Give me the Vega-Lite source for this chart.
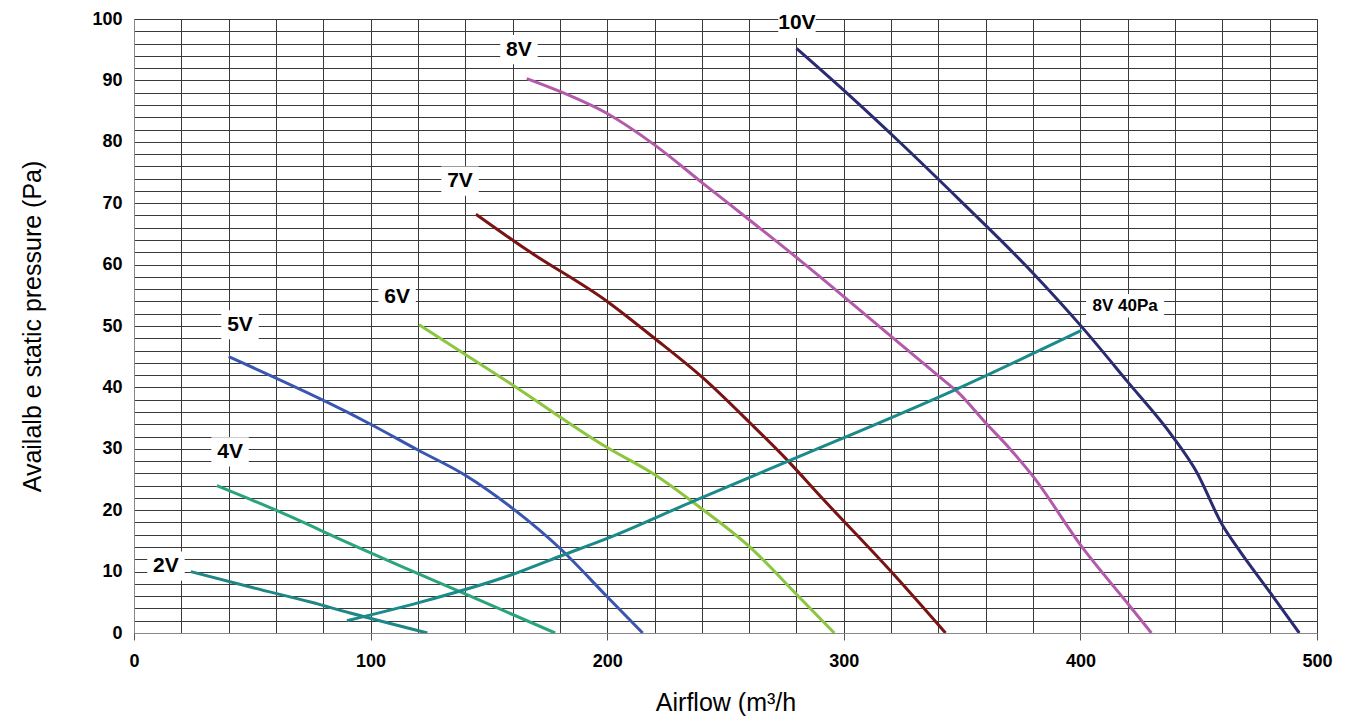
{
  "$schema": "https://vega.github.io/schema/vega-lite/v6.json",
  "width": 1183,
  "height": 614,
  "autosize": {"type": "none"},
  "padding": {"left": 134, "top": 19, "right": 31, "bottom": 92},
  "background": "white",
  "config": {"view": {"stroke": "#cccccc"}, "font": "Liberation Sans"},
  "datasets": {
    "curves": [
      {"series": "2V", "airflow": 24, "pressure": 10},
      {"series": "2V", "airflow": 50, "pressure": 7.4},
      {"series": "2V", "airflow": 75, "pressure": 5},
      {"series": "2V", "airflow": 91, "pressure": 3.3},
      {"series": "2V", "airflow": 124, "pressure": 0},
      {"series": "4V", "airflow": 35, "pressure": 24},
      {"series": "4V", "airflow": 60, "pressure": 20},
      {"series": "4V", "airflow": 91, "pressure": 14.6},
      {"series": "4V", "airflow": 112, "pressure": 11},
      {"series": "4V", "airflow": 138, "pressure": 6.7},
      {"series": "4V", "airflow": 178, "pressure": 0},
      {"series": "5V", "airflow": 40, "pressure": 45},
      {"series": "5V", "airflow": 91, "pressure": 35.8},
      {"series": "5V", "airflow": 100, "pressure": 34},
      {"series": "5V", "airflow": 120, "pressure": 29.8},
      {"series": "5V", "airflow": 140, "pressure": 25.7},
      {"series": "5V", "airflow": 160, "pressure": 20.3},
      {"series": "5V", "airflow": 180, "pressure": 13.8},
      {"series": "5V", "airflow": 200, "pressure": 5.9},
      {"series": "5V", "airflow": 215, "pressure": 0},
      {"series": "6V", "airflow": 120.5, "pressure": 50.2},
      {"series": "6V", "airflow": 160, "pressure": 40.4},
      {"series": "6V", "airflow": 200, "pressure": 30.2},
      {"series": "6V", "airflow": 220, "pressure": 25.8},
      {"series": "6V", "airflow": 238, "pressure": 20.8},
      {"series": "6V", "airflow": 260, "pressure": 14.1},
      {"series": "6V", "airflow": 281, "pressure": 5.9},
      {"series": "6V", "airflow": 296, "pressure": 0},
      {"series": "7V", "airflow": 144.5, "pressure": 68.2},
      {"series": "7V", "airflow": 166, "pressure": 62.4},
      {"series": "7V", "airflow": 200, "pressure": 54},
      {"series": "7V", "airflow": 220, "pressure": 48},
      {"series": "7V", "airflow": 240.6, "pressure": 41.5},
      {"series": "7V", "airflow": 260.4, "pressure": 34.2},
      {"series": "7V", "airflow": 276, "pressure": 28.2},
      {"series": "7V", "airflow": 291, "pressure": 21.9},
      {"series": "7V", "airflow": 320, "pressure": 10},
      {"series": "7V", "airflow": 343, "pressure": 0},
      {"series": "8V", "airflow": 166, "pressure": 90.3},
      {"series": "8V", "airflow": 180, "pressure": 88.2},
      {"series": "8V", "airflow": 200, "pressure": 84.6},
      {"series": "8V", "airflow": 220, "pressure": 79.5},
      {"series": "8V", "airflow": 240.6, "pressure": 73.2},
      {"series": "8V", "airflow": 260, "pressure": 67.3},
      {"series": "8V", "airflow": 281.5, "pressure": 60.7},
      {"series": "8V", "airflow": 300, "pressure": 54.8},
      {"series": "8V", "airflow": 320, "pressure": 48.3},
      {"series": "8V", "airflow": 340.5, "pressure": 41.7},
      {"series": "8V", "airflow": 348, "pressure": 39.3},
      {"series": "8V", "airflow": 360, "pressure": 34.2},
      {"series": "8V", "airflow": 370, "pressure": 30.1},
      {"series": "8V", "airflow": 380, "pressure": 25.5},
      {"series": "8V", "airflow": 400.5, "pressure": 14.1},
      {"series": "8V", "airflow": 420, "pressure": 4.8},
      {"series": "8V", "airflow": 430, "pressure": 0},
      {"series": "10V", "airflow": 280, "pressure": 95.2},
      {"series": "10V", "airflow": 300.5, "pressure": 88.2},
      {"series": "10V", "airflow": 324, "pressure": 79.8},
      {"series": "10V", "airflow": 349, "pressure": 70.5},
      {"series": "10V", "airflow": 380, "pressure": 58.6},
      {"series": "10V", "airflow": 400.5, "pressure": 49.9},
      {"series": "10V", "airflow": 420, "pressure": 40.9},
      {"series": "10V", "airflow": 439, "pressure": 32},
      {"series": "10V", "airflow": 449, "pressure": 26.3},
      {"series": "10V", "airflow": 460, "pressure": 17.6},
      {"series": "10V", "airflow": 466, "pressure": 14.1},
      {"series": "10V", "airflow": 481.5, "pressure": 5.9},
      {"series": "10V", "airflow": 492.5, "pressure": 0},
      {"series": "8V 40Pa", "airflow": 90, "pressure": 2},
      {"series": "8V 40Pa", "airflow": 120, "pressure": 4.9},
      {"series": "8V 40Pa", "airflow": 159, "pressure": 9.4},
      {"series": "8V 40Pa", "airflow": 180, "pressure": 12.5},
      {"series": "8V 40Pa", "airflow": 200, "pressure": 15.4},
      {"series": "8V 40Pa", "airflow": 236, "pressure": 21.4},
      {"series": "8V 40Pa", "airflow": 276, "pressure": 27.9},
      {"series": "8V 40Pa", "airflow": 347, "pressure": 39.6},
      {"series": "8V 40Pa", "airflow": 400.5, "pressure": 49.3}
    ],
    "labels": [
      {"label": "2V", "airflow": 13.5, "pressure": 10.9},
      {"label": "4V", "airflow": 40.6, "pressure": 29.5},
      {"label": "5V", "airflow": 44.8, "pressure": 50.2},
      {"label": "6V", "airflow": 111.2, "pressure": 54.7},
      {"label": "7V", "airflow": 137.8, "pressure": 73.6},
      {"label": "8V", "airflow": 162.7, "pressure": 95},
      {"label": "10V", "airflow": 280.2, "pressure": 99.3},
      {"label": "8V 40Pa", "airflow": 418.9, "pressure": 53.3}
    ]
  },
  "encoding": {
    "x": {
      "field": "airflow", "type": "quantitative",
      "scale": {"domain": [0, 500], "nice": false, "zero": false},
      "axis": {
        "values": [0,20,40,60,80,100,120,140,160,180,200,220,240,260,280,300,320,340,360,380,400,420,440,460,480,500],
        "labelExpr": "datum.value % 100 === 0 ? datum.label : ''",
        "grid": true, "gridColor": "#3a3a3a", "gridWidth": 1,
        "tickOpacity": {"condition": {"test": "datum.value % 100 === 0", "value": 1}, "value": 0},
        "tickColor": "#555555", "tickSize": 7,
        "domainColor": "#888888",
        "labelFont": "Liberation Sans", "labelFontSize": 18, "labelFontWeight": "bold", "labelColor": "black",
        "labelPadding": 12, "labelOverlap": false, "labelFlush": false,
        "title": "Airflow (m³/h", "titleFont": "Liberation Sans", "titleFontSize": 25, "titleFontWeight": "normal", "titleColor": "black", "titlePadding": 20
      }
    },
    "y": {
      "field": "pressure", "type": "quantitative",
      "scale": {"domain": [0, 100], "nice": false, "zero": false},
      "axis": {
        "values": [0,2,4,6,8,10,12,14,16,18,20,22,24,26,28,30,32,34,36,38,40,42,44,46,48,50,52,54,56,58,60,62,64,66,68,70,72,74,76,78,80,82,84,86,88,90,92,94,96,98,100],
        "labelExpr": "datum.value % 10 === 0 ? datum.label : ''",
        "grid": true, "gridColor": "#3a3a3a", "gridWidth": 1,
        "ticks": false,
        "domainColor": "#888888",
        "labelFont": "Liberation Sans", "labelFontSize": 18, "labelFontWeight": "bold", "labelColor": "black",
        "labelPadding": 12, "labelOverlap": false, "labelFlush": false,
        "title": "Availalb e static pressure (Pa)", "titleFont": "Liberation Sans", "titleFontSize": 25, "titleFontWeight": "normal", "titleColor": "black", "titlePadding": 46
      }
    }
  },
  "layer": [
    {
      "data": {"name": "curves"},
      "mark": {"type": "line", "strokeWidth": 3, "interpolate": "monotone", "clip": true},
      "encoding": {
        "color": {
          "field": "series", "type": "nominal",
          "scale": {
            "domain": ["2V", "4V", "5V", "6V", "7V", "8V", "10V", "8V 40Pa"],
            "range": ["#1f8585", "#2aa57a", "#3a56b0", "#8cc63f", "#7a1414", "#b45aab", "#2b2b72", "#1a8a8a"]
          },
          "legend": null
        },
        "order": {"field": "airflow", "type": "quantitative"}
      }
    },
    {
      "data": {"name": "labels"},
      "transform": [{"filter": "datum.label !== '8V 40Pa'"}],
      "mark": {"type": "point", "filled": true, "shape": "M-1,-0.78H1V0.78H-1Z", "size": 1400, "color": "white", "opacity": 1}
    },
    {
      "data": {"name": "labels"},
      "transform": [{"filter": "datum.label === '8V 40Pa'"}],
      "mark": {"type": "point", "filled": true, "shape": "M-1,-0.3H1V0.3H-1Z", "size": 6100, "color": "white", "opacity": 1}
    },
    {
      "data": {"name": "labels"},
      "transform": [{"filter": "datum.label !== '8V 40Pa'"}],
      "mark": {"type": "text", "font": "Liberation Sans", "fontWeight": "bold", "fontSize": 21, "color": "black", "baseline": "middle", "align": "center"},
      "encoding": {"text": {"field": "label"}}
    },
    {
      "data": {"name": "labels"},
      "transform": [{"filter": "datum.label === '8V 40Pa'"}],
      "mark": {"type": "text", "font": "Liberation Sans", "fontWeight": "bold", "fontSize": 17, "color": "black", "baseline": "middle", "align": "center"},
      "encoding": {"text": {"field": "label"}}
    }
  ]
}
